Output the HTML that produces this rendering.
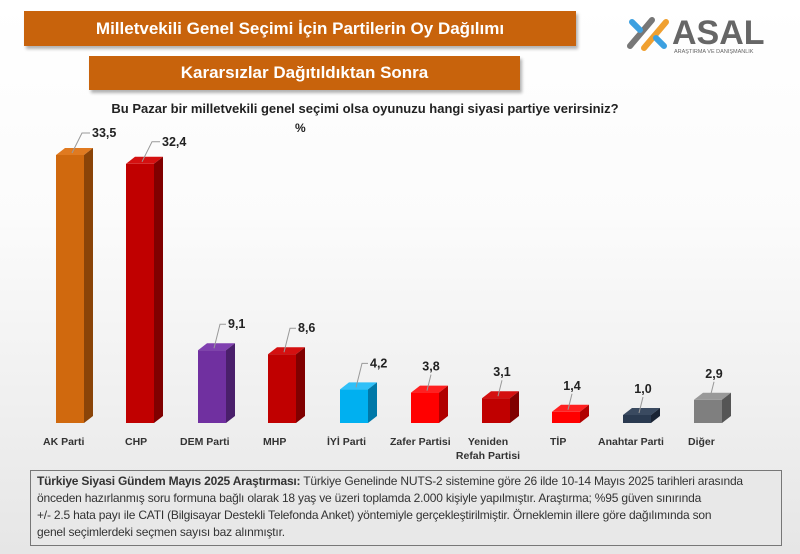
<!DOCTYPE html>
<html><head><meta charset="utf-8"><style>
body{margin:0;width:800px;height:554px;overflow:hidden;font-family:"Liberation Sans",sans-serif;background:linear-gradient(#ffffff 0%,#fbfbfb 40%,#e6e6e6 100%);position:relative}
.box{position:absolute;background:#c8630c;color:#fff;font-weight:bold;text-align:center;box-shadow:2px 3px 3px rgba(0,0,0,.3)}
.foot{position:absolute;left:30px;top:470px;width:752px;height:76px;border:1px solid #777;background:#e8e8e8;font-size:12px;line-height:17px;color:#333;padding:2px 6px;box-sizing:border-box;white-space:nowrap;letter-spacing:-0.2px}
</style></head><body>
<div class="box" style="left:24px;top:11px;width:552px;height:35px;line-height:35px;font-size:17px">Milletvekili Genel Seçimi İçin Partilerin Oy Dağılımı</div>
<div class="box" style="left:89px;top:56px;width:431px;height:34px;line-height:34px;font-size:17px">Kararsızlar Dağıtıldıktan Sonra</div>
<svg style="position:absolute;left:622px;top:8px" width="170" height="48">
<g stroke-width="6" stroke-linecap="round"><line x1="8" y1="38" x2="30" y2="12" stroke="#777"/><line x1="22" y1="40" x2="44" y2="14" stroke="#f0a030"/><line x1="10" y1="14" x2="18" y2="22" stroke="#3ca0e0"/><line x1="34" y1="30" x2="42" y2="38" stroke="#3ca0e0"/></g>
<text x="50" y="36" font-family="Liberation Sans" font-weight="bold" font-size="34" fill="#666">ASAL</text>
<text x="52" y="45" font-family="Liberation Sans" font-size="5.5" fill="#666">ARAŞTIRMA VE DANIŞMANLIK</text>
</svg>
<div style="position:absolute;left:0;width:730px;top:101px;text-align:center;font-weight:bold;font-size:13px;color:#222">Bu Pazar bir milletvekili genel seçimi olsa oyunuzu hangi siyasi partiye verirsiniz?</div>
<div style="position:absolute;left:295px;top:121px;font-weight:bold;font-size:12px;color:#222">%</div>
<svg style="position:absolute;left:0;top:0" width="800" height="470" font-family="Liberation Sans" font-size="12.5" font-weight="bold" fill="#222">
<g id="bars"></g>
</svg>
<script>
var d=[["AK Parti",33.5,"#d0690e","#8a4408","#e07a20"],["CHP",32.4,"#c00000","#800000","#d41010"],["DEM Parti",9.1,"#7030a0","#4a1f6b","#8040b0"],["MHP",8.6,"#c00000","#800000","#d41010"],["İYİ Parti",4.2,"#00b0f0","#0078a8","#30c0f8"],["Zafer Partisi",3.8,"#ff0000","#b00000","#ff2020"],["Yeniden|Refah Partisi",3.1,"#c00000","#800000","#d41010"],["TİP",1.4,"#ff0000","#b00000","#ff2020"],["Anahtar Parti",1.0,"#2a3a50","#1a2434","#3a4a60"],["Diğer",2.9,"#7f7f7f","#555","#999"]];
var lxs=[43,125,180,263,327,390,488,550,598,688];
var xs=[56,126,198,268,340,411,482,552,623,694],s="",B=423,w=28,dx=9,dy=7;
d.forEach(function(r,i){var x=xs[i],h=r[1]*8,t=B-h;
s+='<polygon points="'+x+','+t+' '+(x+dx)+','+(t-dy)+' '+(x+w+dx)+','+(t-dy)+' '+(x+w)+','+t+'" fill="'+r[4]+'"/>';
s+='<polygon points="'+(x+w)+','+t+' '+(x+w+dx)+','+(t-dy)+' '+(x+w+dx)+','+(B-dy)+' '+(x+w)+','+B+'" fill="'+r[3]+'"/>';
s+='<rect x="'+x+'" y="'+t+'" width="'+w+'" height="'+h+'" fill="'+r[2]+'"/>';
var lx=x+16,ly=t-2;
if(i<2){s+='<polyline points="'+lx+','+ly+' '+(x+26)+','+(t-22)+' '+(x+34)+','+(t-22)+'" fill="none" stroke="#999"/>';s+='<text x="'+(x+36)+'" y="'+(t-18)+'">'+r[1].toFixed(1).replace(".",",")+'</text>';}
else if(i<5){s+='<polyline points="'+lx+','+ly+' '+(x+22)+','+(t-26)+' '+(x+28)+','+(t-26)+'" fill="none" stroke="#999"/>';s+='<text x="'+(x+30)+'" y="'+(t-22)+'">'+r[1].toFixed(1).replace(".",",")+'</text>';}
else{s+='<line x1="'+lx+'" y1="'+ly+'" x2="'+(x+20)+'" y2="'+(t-18)+'" stroke="#999"/>';s+='<text x="'+(x+20)+'" y="'+(t-22)+'" text-anchor="middle">'+r[1].toFixed(1).replace(".",",")+'</text>';}
var L=r[0].split("|");
if(L.length==1)s+='<text x="'+lxs[i]+'" y="445" font-size="10.5" fill="#333">'+L[0]+'</text>';
else{s+='<text x="'+lxs[i]+'" y="445" font-size="10.5" fill="#333" text-anchor="middle">'+L[0]+'</text><text x="'+lxs[i]+'" y="459" font-size="10.5" fill="#333" text-anchor="middle">'+L[1]+'</text>';}
});
document.getElementById("bars").innerHTML=s;
</script>
<div class="foot"><b>Türkiye Siyasi Gündem Mayıs 2025 Araştırması:</b> Türkiye Genelinde NUTS-2 sistemine göre 26 ilde 10-14 Mayıs 2025 tarihleri arasında<br>önceden hazırlanmış soru formuna bağlı olarak 18 yaş ve üzeri toplamda 2.000 kişiyle yapılmıştır. Araştırma; %95 güven sınırında<br>+/- 2.5 hata payı ile CATI (Bilgisayar Destekli Telefonda Anket) yöntemiyle gerçekleştirilmiştir. Örneklemin illere göre dağılımında son<br>genel seçimlerdeki seçmen sayısı baz alınmıştır.</div>
</body></html>
